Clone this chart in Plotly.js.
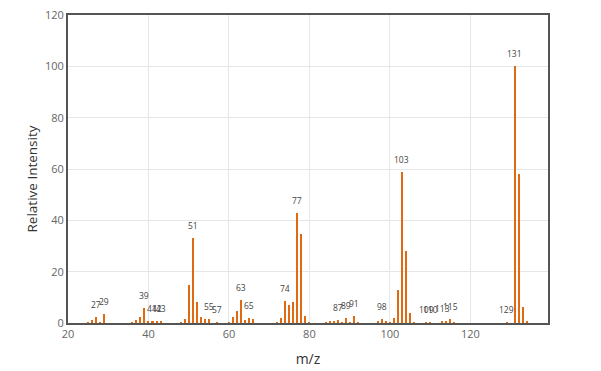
<!DOCTYPE html>
<html>
<head>
<meta charset="utf-8">
<script src="https://cdn.plot.ly/plotly-3.0.1.min.js"></script>
<style>html,body{margin:0;padding:0;background:#fff;}#chart{width:601px;height:371px;}</style>
</head>
<body>
<div id="chart"></div>
<script>
const mz = [25,26,27,28,29,36,37,38,39,40,41,42,43,48,49,50,51,52,53,54,55,57,60,61,62,63,64,65,66,72,73,74,75,76,77,78,79,80,84,85,86,87,88,89,90,91,92,97,98,99,100,101,102,103,104,105,106,109,110,113,114,115,116,129,131,132,133,134];
const intensity = [0.5,1.0,2.3,0.5,3.5,0.5,1.3,2.3,5.7,0.6,0.6,0.6,0.6,0.5,1.6,15.0,33.0,8.2,2.2,1.4,1.4,0.5,0.5,2.2,4.5,8.8,1.3,1.8,1.4,0.5,1.8,8.6,6.9,8.0,43.0,34.8,2.6,0.5,0.4,0.6,0.9,1.3,0.5,1.8,0.5,2.6,0.5,0.6,1.6,0.6,0.5,2.1,12.9,59.0,28.2,4.0,0.5,0.5,0.5,0.6,0.6,1.4,0.5,0.5,100,58.0,6.2,0.8];
const labeledPeaks = [27,29,39,41,42,43,51,55,57,63,65,74,77,87,89,91,98,103,109,110,113,115,129,131];
const xTicks = [20,40,60,80,100,120];
const yTicks = [0,20,40,60,80,100,120];

const trace = {
  type: 'bar',
  x: mz,
  y: intensity,
  width: 0.5,
  marker: {color: '#e06a12', line: {width: 0}},
  hoverinfo: 'x+y'
};

const peakAnnotations = labeledPeaks.map(m => ({
  x: m,
  y: intensity[mz.indexOf(m)],
  xref: 'x', yref: 'y',
  text: String(m),
  showarrow: false,
  yanchor: 'bottom',
  xanchor: 'center',
  yshift: 5,
  font: {family: 'Open Sans, sans-serif', size: 8.5, color: '#444'}
}));

const yTitle = {
  xref: 'paper', yref: 'paper',
  x: -0.075, y: 0.466,
  xanchor: 'center', yanchor: 'middle',
  textangle: -90,
  text: 'Relative Intensity',
  showarrow: false,
  font: {family: 'Open Sans, sans-serif', size: 13.5, color: '#333'}
};

const layout = {
  width: 601, height: 371,
  margin: {l: 68, r: 53, t: 15, b: 48},
  paper_bgcolor: '#fff', plot_bgcolor: '#fff',
  showlegend: false,
  bargap: 0,
  font: {family: 'Open Sans, sans-serif', color: '#666', size: 11},
  xaxis: {
    range: [20, 139.3],
    tickvals: xTicks,
    ticktext: xTicks.map(String),
    showgrid: true, gridcolor: '#e6e6e6', gridwidth: 1,
    zeroline: false,
    showline: true, mirror: true, linecolor: '#555', linewidth: 2,
    ticks: '',
    tickfont: {size: 11, color: '#666'},
    title: {text: 'm/z', font: {size: 14, color: '#333'}, standoff: 14}
  },
  yaxis: {
    range: [0, 120],
    tickvals: yTicks,
    ticktext: yTicks.map(String),
    showgrid: true, gridcolor: '#e6e6e6', gridwidth: 1,
    zeroline: false,
    showline: true, mirror: true, linecolor: '#555', linewidth: 2,
    ticks: '',
    tickfont: {size: 11, color: '#666'}
  },
  annotations: peakAnnotations.concat([yTitle])
};

Plotly.newPlot('chart', [trace], layout, {displayModeBar: false, staticPlot: true});
</script>
</body>
</html>
